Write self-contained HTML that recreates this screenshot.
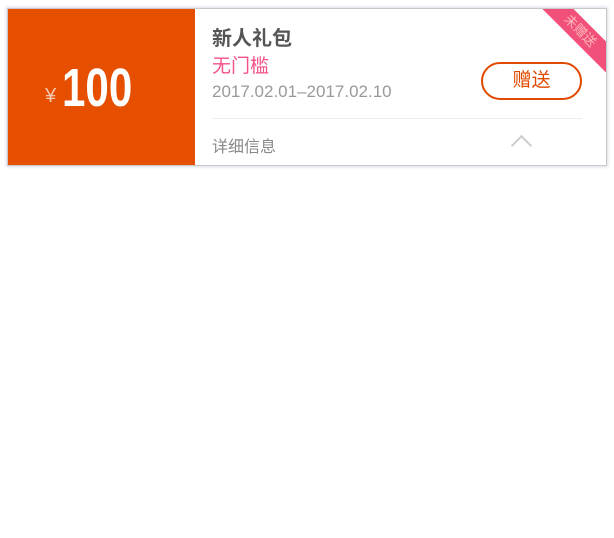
<!DOCTYPE html>
<html><head><meta charset="utf-8"><style>
body{margin:0;width:614px;height:538px;background:#fff;position:relative;overflow:hidden;font-family:"Liberation Sans","Noto Sans CJK SC",sans-serif}
.card{position:absolute;left:7px;top:8px;width:598px;height:156px;border:1px solid #c8c8c8;box-shadow:0 0 3px 1px #d8dce6;background:#fff;overflow:hidden}
.left{position:absolute;left:0;top:0;width:187px;height:156px;background:#e64e00}
.abs{position:absolute;white-space:nowrap}
</style></head><body>
<div class="card">
  <div class="left">
    <span class="abs" style="left:37px;top:76px;font-size:20px;color:#f6c8b0">¥</span>
    <span class="abs" style="left:54px;top:48px;font-size:54px;font-weight:bold;color:#fff;transform:scaleX(0.78);transform-origin:left top">100</span>
  </div>
  <span class="abs" style="left:204px;top:13px;font-size:20px;color:#555;font-weight:bold">新人礼包</span>
  <span class="abs" style="left:204px;top:42px;font-size:19px;color:#f4508a">无门槛</span>
  <span class="abs" style="left:204px;top:73px;font-size:17px;color:#999">2017.02.01–2017.02.10</span>
  <div class="abs" style="left:204px;top:109px;width:370px;height:1px;background:#eee"></div>
  <span class="abs" style="left:204px;top:124px;font-size:16px;color:#888">详细信息</span>
  <div class="abs" style="left:506px;top:129px;width:13px;height:13px;border-left:2px solid #ccc;border-top:2px solid #ccc;transform:rotate(45deg)"></div>
  <div class="abs" style="left:473px;top:53px;width:97px;height:34px;border:2px solid #e04a00;border-radius:19px;text-align:center;line-height:34px;font-size:19px;color:#e04a00">赠送</div>
  <div class="abs" style="left:517px;top:11px;width:110px;height:22px;background:#f0507a;transform:rotate(45deg);text-align:center;line-height:22px;font-size:13px;color:#fbb">未赠送</div>
</div>
</body></html>
